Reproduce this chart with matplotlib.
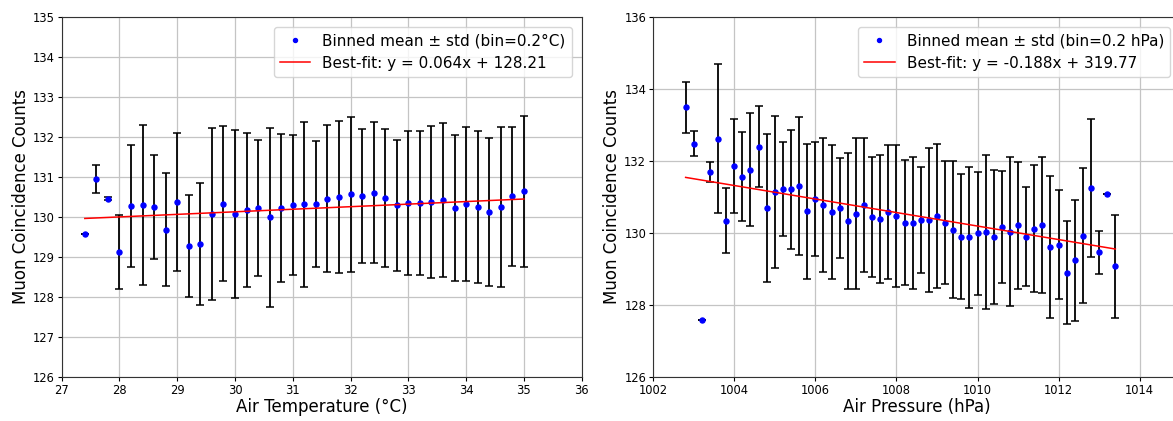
import matplotlib

matplotlib.use("Agg")
import matplotlib.pyplot as plt

# temperature bins (deg C), binned means and std
temp_bins = [27.4, 27.6, 27.8, 28.0, 28.2, 28.4, 28.6, 28.8, 29.0, 29.2,
             29.4, 29.6, 29.8, 30.0, 30.2, 30.4, 30.6, 30.8, 31.0, 31.2,
             31.4, 31.6, 31.8, 32.0, 32.2, 32.4, 32.6, 32.8, 33.0, 33.2,
             33.4, 33.6, 33.8, 34.0, 34.2, 34.4, 34.6, 34.8, 35.0]
temp_mean = [129.58, 130.95, 130.46, 129.12, 130.28, 130.29, 130.26, 129.68, 130.38, 129.28,
             129.33, 130.07, 130.33, 130.08, 130.18, 130.23, 129.99, 130.22, 130.30, 130.32,
             130.33, 130.46, 130.50, 130.57, 130.53, 130.61, 130.48, 130.29, 130.36, 130.34,
             130.37, 130.43, 130.23, 130.32, 130.25, 130.13, 130.24, 130.52, 130.64]
temp_std = [0.0, 0.35, 0.03, 0.93, 1.52, 2.00, 1.30, 1.41, 1.73, 1.28,
            1.52, 2.15, 1.94, 2.10, 1.93, 1.70, 2.23, 1.85, 1.76, 2.06,
            1.58, 1.84, 1.90, 1.94, 1.68, 1.77, 1.72, 1.64, 1.80, 1.80,
            1.90, 1.92, 1.82, 1.92, 1.90, 1.85, 2.00, 1.74, 1.88]
temp_slope, temp_icpt = 0.064, 128.21

# pressure bins (hPa)
pres_bins = [1002.8, 1003.0, 1003.2, 1003.4, 1003.6, 1003.8, 1004.0, 1004.2, 1004.4, 1004.6,
             1004.8, 1005.0, 1005.2, 1005.4, 1005.6, 1005.8, 1006.0, 1006.2, 1006.4, 1006.6,
             1006.8, 1007.0, 1007.2, 1007.4, 1007.6, 1007.8, 1008.0, 1008.2, 1008.4, 1008.6,
             1008.8, 1009.0, 1009.2, 1009.4, 1009.6, 1009.8, 1010.0, 1010.2, 1010.4, 1010.6,
             1010.8, 1011.0, 1011.2, 1011.4, 1011.6, 1011.8, 1012.0, 1012.2, 1012.4, 1012.6,
             1012.8, 1013.0, 1013.2, 1013.4]
pres_mean = [133.49, 132.48, 127.57, 131.70, 132.62, 130.34, 131.87, 131.56, 131.76, 132.40,
             130.70, 131.13, 131.23, 131.21, 131.31, 130.60, 130.95, 130.78, 130.58, 130.69,
             130.33, 130.54, 130.78, 130.45, 130.39, 130.59, 130.47, 130.29, 130.28, 130.35,
             130.35, 130.47, 130.29, 130.09, 129.90, 129.88, 129.99, 130.04, 129.90, 130.17,
             130.03, 130.21, 129.90, 130.12, 130.22, 129.62, 129.68, 128.90, 129.24, 129.93,
             131.24, 129.46, 131.09, 129.07]
pres_std = [0.71, 0.34, 0.0, 0.27, 2.07, 0.90, 1.31, 1.24, 1.56, 1.12,
            2.06, 2.11, 1.31, 1.65, 1.91, 1.87, 1.58, 1.87, 1.86, 1.39,
            1.88, 2.10, 1.87, 1.67, 1.77, 1.86, 1.98, 1.74, 1.84, 1.47,
            2.00, 2.00, 1.72, 1.90, 1.73, 1.96, 1.70, 2.14, 1.86, 1.55,
            2.07, 1.77, 1.38, 1.77, 1.90, 1.97, 1.52, 1.44, 1.68, 1.87,
            1.92, 0.60, 0.0, 1.43]
pres_slope, pres_icpt = -0.1877, 319.77

W, H = 1173, 421
fig = plt.figure(figsize=(W / 100, H / 100), dpi=100)
ax1 = fig.add_axes([61.7 / W, (H - 377) / H, 520 / W, 360 / H])
ax2 = fig.add_axes([653.2 / W, (H - 377) / H, 527 / W, 360 / H])


def draw_panel(ax, xs, means, stds, slope, icpt, unit_label):
    ax.errorbar(xs, means, yerr=stds, fmt="none", ecolor="black",
                elinewidth=1.3, capsize=2.6, capthick=1.1, zorder=2)
    ax.plot(xs, means, "o", color="blue", markersize=3.6, zorder=3,
            label=f"Binned mean ± std (bin={unit_label})")
    fit = [slope * x + icpt for x in xs]
    ax.plot(xs, fit, "-", color="red", linewidth=1.1, zorder=4,
            label=f"Best-fit: y = {slope:.3f}x + {icpt:.2f}")
    ax.grid(True, color="#c4c4c4", linewidth=0.9)
    ax.set_axisbelow(True)
    ax.set_ylabel("Muon Coincidence Counts", fontsize=12, labelpad=2)
    ax.tick_params(labelsize=8.3, length=3, pad=2)
    for s in ax.spines.values():
        s.set_color("#333333")
    ax.legend(loc="upper right", fontsize=11, borderaxespad=0.65,
              handletextpad=0.8, framealpha=0.8, markerscale=0.8)


draw_panel(ax1, temp_bins, temp_mean, temp_std, temp_slope, temp_icpt, "0.2°C")
ax1.set_xlim(27, 36)
ax1.set_ylim(126, 135)
ax1.set_xticks(range(27, 37))
ax1.set_yticks(range(126, 136))
ax1.set_xlabel("Air Temperature (°C)", fontsize=12, labelpad=1)

draw_panel(ax2, pres_bins, pres_mean, pres_std, pres_slope, pres_icpt, "0.2 hPa")
ax2.set_xlim(1002, 1015)
ax2.set_ylim(126, 136)
ax2.set_xticks(range(1002, 1015, 2))
ax2.set_yticks(range(126, 137, 2))
ax2.set_xlabel("Air Pressure (hPa)", fontsize=12, labelpad=1)

fig.savefig("out.png", dpi=100)
